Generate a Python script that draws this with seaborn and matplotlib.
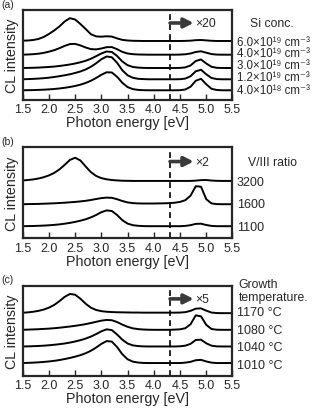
#!/usr/bin/env python3
import matplotlib
matplotlib.use('Agg')
import matplotlib.pyplot as plt
import numpy as np
import pandas as pd
import seaborn as sns

# photon energy grid [eV]
energy = [1.5, 1.6, 1.7, 1.8, 1.9, 2.0, 2.1, 2.2, 2.3, 2.4,
          2.5, 2.6, 2.7, 2.8, 2.9, 3.0, 3.1, 3.2, 3.3, 3.4,
          3.5, 3.6, 3.7, 3.8, 3.9, 4.0, 4.1, 4.2, 4.3, 4.4,
          4.5, 4.6, 4.7, 4.8, 4.9, 5.0, 5.1, 5.2, 5.3, 5.4, 5.5]

#
#   (a) Si concentration series (intensity above each trace's baseline)
#
si_60e19 = [0.3, 0.5, 1.0, 2.0, 4.0, 7.0, 10.5, 14.5, 19.5, 22.8,
            21.5, 17.0, 12.0, 6.8, 4.6, 4.3, 4.7, 4.4, 2.6, 1.1,
            0.5, 0.2, 0.1, 0, 0, 0, 0, 0, 0, 0,
            0, 0.1, 0.3, 0.8, 1.0, 0.6, 0.2, 0, 0, 0, 0]
si_40e19 = [0, 0.2, 0.5, 1.0, 1.8, 3.0, 4.5, 6.5, 8.8, 10.6,
            10.8, 9.3, 7.2, 5.6, 5.3, 6.2, 7.5, 7.6, 5.5, 2.8,
            1.2, 0.5, 0.2, 0.1, 0, 0, 0, 0, 0, 0,
            0.1, 0.4, 1.2, 2.7, 3.4, 2.0, 0.6, 0.1, 0, 0, 0]
si_30e19 = [0, 0.1, 0.2, 0.4, 0.7, 1.0, 1.4, 2.0, 2.7, 3.5,
            4.5, 5.7, 7.2, 9.2, 11.8, 14.5, 16.5, 16.0, 12.0, 6.5,
            2.8, 1.0, 0.4, 0.1, 0, 0, 0, 0, 0, 0,
            0.1, 0.6, 2.5, 7.0, 8.5, 4.5, 1.2, 0.2, 0, 0, 0]
si_12e19 = [0, 0.2, 0.4, 0.7, 1.1, 1.6, 2.3, 3.1, 4.0, 5.0,
            6.3, 7.8, 9.8, 12.5, 16.0, 20.0, 22.8, 22.0, 16.5, 9.0,
            4.0, 1.5, 0.5, 0.2, 0, 0, 0, 0, 0, 0,
            0.1, 0.7, 3.0, 8.0, 9.5, 5.0, 1.3, 0.2, 0, 0, 0]
si_40e18 = [0, 0.1, 0.2, 0.4, 0.6, 0.9, 1.3, 1.8, 2.5, 3.3,
            4.3, 5.6, 7.3, 9.5, 12.3, 15.5, 18.0, 17.8, 13.5, 7.5,
            3.2, 1.2, 0.4, 0.1, 0, 0, 0, 0, 0, 0,
            0.1, 0.8, 3.5, 9.5, 11.5, 6.0, 1.5, 0.3, 0, 0, 0]
si_labels = ['6.0×10¹⁹ cm⁻³', '4.0×10¹⁹ cm⁻³', '3.0×10¹⁹ cm⁻³',
             '1.2×10¹⁹ cm⁻³', '4.0×10¹⁸ cm⁻³']
si_offsets = [59, 45.3, 32, 20.7, 9.7]

#
#   (b) V/III ratio series
#
vr_3200 = [0.5, 0.9, 1.5, 2.4, 3.7, 5.5, 8.0, 11.5, 16.0, 21.0,
           23.2, 20.5, 14.5, 8.8, 5.0, 2.8, 1.6, 0.9, 0.5, 0.2,
           0.1, 0, 0, 0, 0, 0, 0, 0, 0, 0,
           0, 0, 0, 0.3, 0.8, 0.9, 0.4, 0.1, 0, 0, 0]
vr_1600 = [0, 0.1, 0.2, 0.3, 0.5, 0.7, 0.9, 1.2, 1.5, 1.9,
           2.3, 2.8, 3.4, 4.2, 5.2, 6.1, 6.6, 6.4, 5.0, 3.2,
           1.8, 1.1, 0.8, 0.7, 0.7, 0.7, 0.8, 0.9, 1.1, 1.5,
           2.3, 4.0, 8.5, 18.0, 17.5, 5.0, 0.8, 0.1, 0, 0, 0]
vr_1100 = [0, 0.1, 0.2, 0.4, 0.6, 0.9, 1.3, 1.8, 2.5, 3.3,
           4.3, 5.5, 6.9, 8.8, 11.2, 14.0, 15.8, 15.2, 11.2, 6.0,
           2.6, 1.0, 0.4, 0.1, 0, 0, 0, 0, 0, 0,
           0, 0.3, 1.0, 2.3, 2.5, 1.2, 0.3, 0, 0, 0, 0]
vr_labels = ['3200', '1600', '1100']
vr_offsets = [57.6, 34.3, 12.3]

#
#   (c) growth temperature series
#
gt_1170 = [0.4, 0.8, 1.4, 2.3, 3.6, 5.5, 8.2, 12.0, 16.3, 19.2,
           18.5, 14.5, 9.5, 5.5, 3.2, 2.0, 1.4, 1.1, 0.9, 0.8,
           0.7, 0.6, 0.6, 0.5, 0.5, 0.5, 0.5, 0.5, 0.5, 0.5,
           0.6, 1.0, 2.3, 4.5, 4.8, 2.5, 0.6, 0.1, 0, 0, 0]
gt_1080 = [0, 0.2, 0.4, 0.6, 0.9, 1.2, 1.6, 2.1, 2.7, 3.3,
           4.0, 4.8, 5.7, 6.8, 8.0, 9.2, 9.9, 9.6, 7.8, 5.2,
           3.0, 1.5, 0.7, 0.3, 0.1, 0, 0, 0, 0, 0.2,
           0.5, 1.6, 5.5, 14.5, 13.5, 5.0, 0.8, 0.1, 0, 0, 0]
gt_1040 = [0, 0.1, 0.3, 0.5, 0.8, 1.2, 1.7, 2.3, 3.0, 3.9,
           5.0, 6.3, 7.9, 9.9, 12.4, 15.2, 17.2, 16.4, 12.0, 6.8,
           3.0, 1.1, 0.4, 0.1, 0, 0, 0, 0, 0, 0,
           0.2, 0.8, 2.6, 6.5, 6.8, 3.2, 0.8, 0.1, 0, 0, 0]
gt_1010 = [0, 0.2, 0.4, 0.7, 1.1, 1.6, 2.2, 3.0, 4.0, 5.1,
           6.4, 7.9, 9.8, 12.3, 15.5, 19.2, 22.0, 21.5, 16.0, 8.8,
           3.8, 1.4, 0.5, 0.1, 0, 0, 0, 0, 0, 0,
           0, 0.4, 1.2, 2.8, 3.2, 1.6, 0.4, 0, 0, 0, 0]
gt_labels = ['1170 °C', '1080 °C', '1040 °C', '1010 °C']
gt_offsets = [62.7, 46, 29.3, 12.7]

xticks = [1.5, 2.0, 2.5, 3.0, 3.5, 4.0, 4.5, 5.0, 5.5]

sns.set_style('ticks')
plt.rcParams['font.family'] = ['Liberation Sans', 'DejaVu Sans']

panels = [
  dict(tag='(a)', curves=[si_60e19, si_40e19, si_30e19, si_12e19, si_40e18],
       labels=si_labels, offsets=si_offsets, label_y=[57.6, 46.8, 35, 22.8, 9.6], label_fs=8.3,
       factor='×20', title=[('Si conc.', 1.084, 77)],
       box=[0.072, 0.7537, 0.666, 0.2195], ymax=90, tag_y=0.987),
  dict(tag='(b)', curves=[vr_3200, vr_1600, vr_1100],
       labels=vr_labels, offsets=vr_offsets, label_y=[56.2, 34.5, 11.2], label_fs=9,
       factor='×2', title=[('V/III ratio', 1.074, 76.8)],
       box=[0.072, 0.4159, 0.666, 0.223], ymax=91.5, tag_y=0.654),
  dict(tag='(c)', curves=[gt_1170, gt_1080, gt_1040, gt_1010],
       labels=gt_labels, offsets=gt_offsets, label_y=[63.4, 45.7, 28.4, 10.7], label_fs=9,
       factor='×5', title=[('Growth', 1.03, 91.7), ('temperature.', 1.03, 78.4)],
       box=[0.072, 0.0812, 0.666, 0.219], ymax=90, tag_y=0.317),
]

fig = plt.figure(figsize=(3.15, 4.10), dpi=100)
for p in panels:
  ax = fig.add_axes(p['box'])
  rows = []
  for i, (curve, off) in enumerate(zip(p['curves'], p['offsets'])):
    rows.append(pd.DataFrame({'energy': energy, 'cl': np.array(curve) + off, 'trace': i}))
  df = pd.concat(rows)
  sns.lineplot(data=df, x='energy', y='cl', units='trace', estimator=None,
               color='black', lw=1.4, ax=ax, legend=False)
  ax.axvline(4.3, color='black', lw=1.2, ls=(0, (3.5, 2.5)))
  ax.set_xlim(1.5, 5.5)
  ax.set_ylim(0, p['ymax'])
  ax.set_xticks(xticks)
  ax.set_xticklabels([f'{t:.1f}' for t in xticks], fontsize=9)
  ax.set_yticks([])
  ax.tick_params(axis='x', direction='in', length=4, width=1, pad=2.5)
  for s in ax.spines.values():
    s.set_linewidth(1.6)
  ax.set_xlabel('Photon energy [eV]', fontsize=10.3, labelpad=0)
  ax.set_ylabel('CL intensity', fontsize=10.3, labelpad=3)
  # trace labels on the right
  for lab, ly in zip(p['labels'], p['label_y']):
    ax.text(1.021, ly, lab, transform=ax.get_yaxis_transform(), fontsize=p['label_fs'],
            va='center', ha='left', clip_on=False)
  for txt, tx, ty in p['title']:
    ax.text(tx, ty, txt, transform=ax.get_yaxis_transform(),
            fontsize=8.8, va='center', ha='left')
  # magnification arrow
  ax.annotate('', xy=(4.76, 77), xytext=(4.31, 77),
              arrowprops=dict(arrowstyle='-|>,head_length=0.55,head_width=0.28',
                              lw=2.6, color='#3a3a3a', shrinkA=0, shrinkB=0))
  ax.text(4.78, 77, p['factor'], fontsize=8.8, va='center', ha='left')
  fig.text(0.005, p['tag_y'], p['tag'], fontsize=7.5, va='center', ha='left')

plt.savefig('out.png', dpi=100)
